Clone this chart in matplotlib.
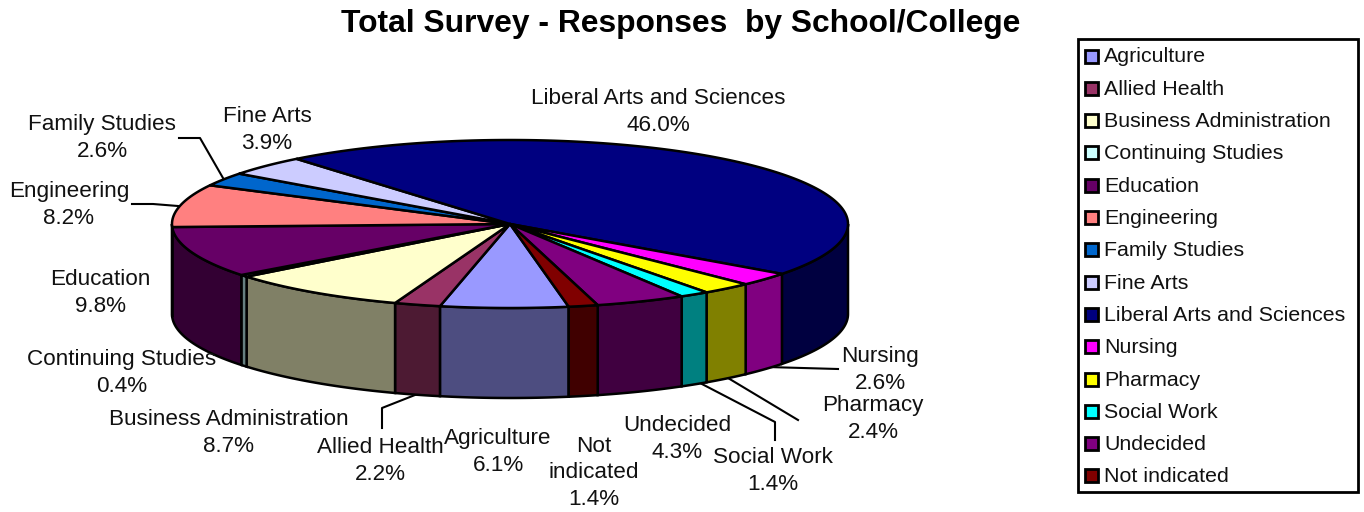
import numpy as np
import matplotlib
matplotlib.use("Agg")
import matplotlib.pyplot as plt
from matplotlib.colors import to_rgb
from matplotlib.patches import Polygon, Rectangle

plt.rcParams['font.family'] = ['Liberation Sans', 'DejaVu Sans']

schools = ['Agriculture', 'Allied Health', 'Business Administration', 'Continuing Studies',
           'Education', 'Engineering', 'Family Studies', 'Fine Arts',
           'Liberal Arts and Sciences', 'Nursing', 'Pharmacy', 'Social Work',
           'Undecided', 'Not indicated']
shares = [6.1, 2.2, 8.7, 0.4, 9.8, 8.2, 2.6, 3.9, 46.0, 2.6, 2.4, 1.4, 4.3, 1.4]
colors = ['#9999FF', '#993366', '#FFFFCC', '#CCFFFF', '#660066', '#FF8080', '#0066CC',
          '#CCCCFF', '#000080', '#FF00FF', '#FFFF00', '#00FFFF', '#800080', '#800000']
label_names = ['Agriculture', 'Allied Health', 'Business Administration', 'Continuing Studies',
               'Education', 'Engineering', 'Family Studies', 'Fine Arts',
               'Liberal Arts and Sciences', 'Nursing', 'Pharmacy', 'Social Work',
               'Undecided', 'Not\nindicated']

# label centres in pixels, same order as schools
label_pos = [(498, 452), (380, 461), (229, 433), (122, 373), (100, 293), (69, 205), (102, 138),
             (267, 130), (658, 112), (880, 370), (873, 419), (773, 471), (677, 439), (594, 473)]

leaders = [
    [(179, 138), (200, 138), (223, 178)],
    [(132, 204), (153, 204), (178, 206)],
    [(838, 369), (767, 367)],
    [(728, 378), (798, 420)],
    [(700, 383), (775, 422), (775, 440)],
    [(415, 395), (382, 408), (382, 428)],
]

CX, CY = 510, 224
RX, RY = 338, 84
DEPTH = 90
START = 170
LW = 1.8
LABEL_SIZE = 16.2


def rim(t):
    t = np.radians(t)
    return CX + RX * np.sin(t), CY - RY * np.cos(t)


def main():
    fig = plt.figure(figsize=(13.64, 5.12), dpi=100)
    ax = fig.add_axes([0, 0, 1, 1])
    ax.set_xlim(0, 1364)
    ax.set_ylim(512, 0)
    ax.axis('off')

    edges = START + np.cumsum([0] + shares) * 3.6

    # side wall first: only the part of each slice facing the viewer
    for i, col in enumerate(colors):
        a0, a1 = edges[i], edges[i + 1]
        for shift in (0, 360):
            lo = max(a0, 90 + shift)
            hi = min(a1, 270 + shift)
            if hi <= lo:
                continue
            x, y = rim(np.linspace(lo, hi, 60))
            pts = np.r_[np.c_[x, y], np.c_[x[::-1], y[::-1] + DEPTH]]
            dark = tuple(c * 0.5 for c in to_rgb(col))
            ax.add_patch(Polygon(pts, closed=True, fc=dark, ec='black', lw=LW, zorder=2))

    # top face
    for i, col in enumerate(colors):
        x, y = rim(np.linspace(edges[i], edges[i + 1], 200))
        pts = np.r_[[(CX, CY)], np.c_[x, y]]
        ax.add_patch(Polygon(pts, closed=True, fc=col, ec='black', lw=LW, joinstyle='round', zorder=3))

    for line in leaders:
        xs, ys = zip(*line)
        ax.plot(xs, ys, color='black', lw=1.5, zorder=1)

    for name, share, (x, y) in zip(label_names, shares, label_pos):
        ax.text(x, y, f"{name}\n{share:.1f}%", ha='center', va='center',
                fontsize=LABEL_SIZE, linespacing=1.37, color='#111111', zorder=5)

    ax.text(681, 24, 'Total Survey - Responses  by School/College', ha='center', va='center',
            fontsize=22.9, fontweight='bold', color='black')

    # legend box
    ax.add_patch(Rectangle((1078, 39), 280, 453, fc='white', ec='black', lw=2))
    for i, (name, col) in enumerate(zip(schools, colors)):
        y = 56 + i * 32.3
        ax.add_patch(Rectangle((1085, y - 6.5), 13, 13, fc=col, ec='black', lw=2))
        ax.text(1104, y + 1, name, ha='left', va='center', fontsize=15.4, color='#111111')

    fig.savefig('out.png', dpi=100, facecolor='white')
    plt.close(fig)


if __name__ == "__main__":
    main()
